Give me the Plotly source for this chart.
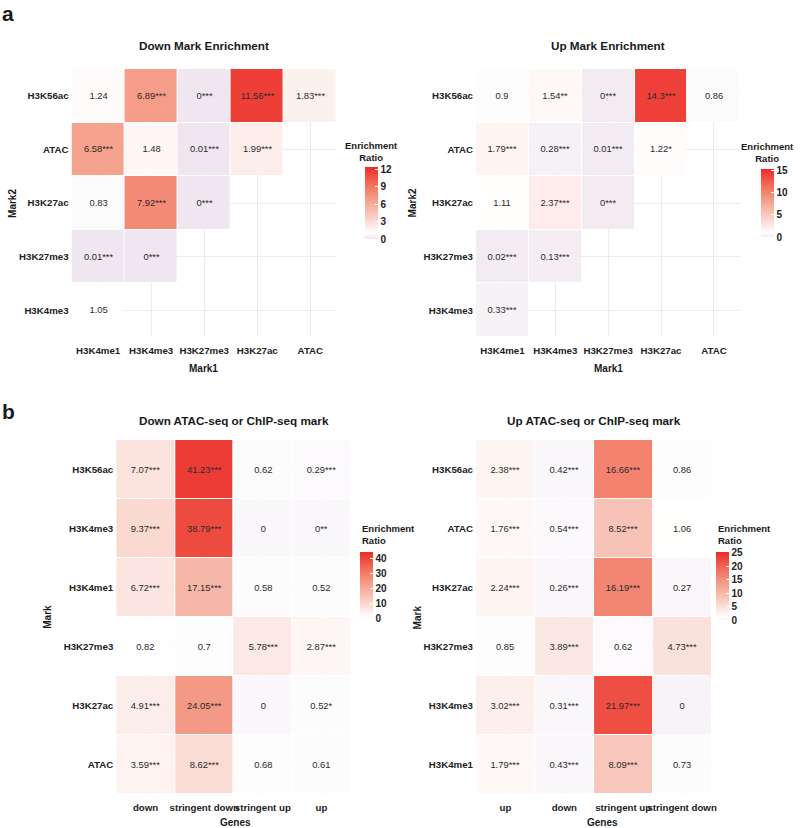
import plotly.graph_objects as go

FONT = "Liberation Sans, Arial, Helvetica, sans-serif"

# ---------------- Panel a data ----------------
a_mark1 = ["H3K4me1", "H3K4me3", "H3K27me3", "H3K27ac", "ATAC"]
a_mark2 = ["H3K56ac", "ATAC", "H3K27ac", "H3K27me3", "H3K4me3"]

a_down_vals = [
    [1.24, 6.89, 0, 11.56, 1.83],
    [6.58, 1.48, 0.01, 1.99, None],
    [0.83, 7.92, 0, None, None],
    [0.01, 0, None, None, None],
    [1.05, None, None, None, None],
]
a_down_sig = [
    ["", "***", "***", "***", "***"],
    ["***", "", "***", "***", ""],
    ["", "***", "***", "", ""],
    ["***", "***", "", "", ""],
    ["", "", "", "", ""],
]

a_up_vals = [
    [0.9, 1.54, 0, 14.3, 0.86],
    [1.79, 0.28, 0.01, 1.22, None],
    [1.11, 2.37, 0, None, None],
    [0.02, 0.13, None, None, None],
    [0.33, None, None, None, None],
]
a_up_sig = [
    ["", "**", "***", "***", ""],
    ["***", "***", "***", "*", ""],
    ["", "***", "***", "", ""],
    ["***", "***", "", "", ""],
    ["***", "", "", "", ""],
]

# ---------------- Panel b data ----------------
b_down_genes = ["down", "stringent down", "stringent up", "up"]
b_down_marks = ["H3K56ac", "H3K4me3", "H3K4me1", "H3K27me3", "H3K27ac", "ATAC"]
b_down_vals = [
    [7.07, 41.23, 0.62, 0.29],
    [9.37, 38.79, 0, 0],
    [6.72, 17.15, 0.58, 0.52],
    [0.82, 0.7, 5.78, 2.87],
    [4.91, 24.05, 0, 0.52],
    [3.59, 8.62, 0.68, 0.61],
]
b_down_sig = [
    ["***", "***", "", "***"],
    ["***", "***", "", "**"],
    ["***", "***", "", ""],
    ["", "", "***", "***"],
    ["***", "***", "", "*"],
    ["***", "***", "", ""],
]

b_up_genes = ["up", "down", "stringent up", "stringent down"]
b_up_marks = ["H3K56ac", "ATAC", "H3K27ac", "H3K27me3", "H3K4me3", "H3K4me1"]
b_up_vals = [
    [2.38, 0.42, 16.66, 0.86],
    [1.76, 0.54, 8.52, 1.06],
    [2.24, 0.26, 16.19, 0.27],
    [0.85, 3.89, 0.62, 4.73],
    [3.02, 0.31, 21.97, 0],
    [1.79, 0.43, 8.09, 0.73],
]
b_up_sig = [
    ["***", "***", "***", ""],
    ["***", "***", "***", ""],
    ["***", "***", "***", ""],
    ["", "***", "", "***"],
    ["***", "***", "***", ""],
    ["***", "***", "***", ""],
]

W, H = 800, 828


def px(x):
    return x / W


def py(y):
    return 1 - y / H


def labels(vals, sig):
    out = []
    for rv, rs in zip(vals, sig):
        out.append(["" if v is None else f"{v:g}{s}" for v, s in zip(rv, rs)])
    return out


def scale(zmax):
    # diverging around 1: pale purple tint -> white -> red (Lab-like steps)
    f = 1.0 / (zmax - 1.0)
    low = f"rgb({255 - 180 * f:.0f},{255 - 280 * f:.0f},{255 - 180 * f:.0f})"
    m = 1.0 / zmax
    reds = [(0.25, "rgb(249,206,196)"), (0.5, "rgb(245,160,140)"),
            (0.75, "rgb(241,108,88)"), (1.0, "rgb(236,44,42)")]
    cs = [[0, low], [m, "rgb(255,255,255)"]]
    for t, c in reds:
        cs.append([m + t * (1 - m), c])
    return cs


def cbar(x, ytop, length, ticks):
    return dict(
        x=px(x), xanchor="left", xpad=0,
        y=py(ytop), yanchor="top", ypad=0,
        len=length, lenmode="pixels",
        thickness=13, thicknessmode="pixels",
        outlinewidth=0, tickvals=ticks,
        ticks="inside", ticklen=3, tickcolor="white",
        tickfont=dict(size=10, family=FONT, color="#222", weight="bold"),
        title=dict(text=""),
    )


panels = [
    # vals, sig, xcats, ycats, zmax, axis suffix, colorbar args
    (a_down_vals, a_down_sig, a_mark1, a_mark2, 12.4, "", (367, 167, 72, [0, 3, 6, 9, 12])),
    (a_up_vals, a_up_sig, a_mark1, a_mark2, 15.4, "2", (766, 169, 68, [0, 5, 10, 15])),
    (b_down_vals, b_down_sig, b_down_genes, b_down_marks, 44, "3", (362, 552, 66, [0, 10, 20, 30, 40])),
    (b_up_vals, b_up_sig, b_up_genes, b_up_marks, 25.3, "4", (720, 552, 68, [0, 5, 10, 15, 20, 25])),
]

fig = go.Figure()
for vals, sig, xc, yc, zmax, sfx, cb in panels:
    fig.add_trace(go.Heatmap(
        z=vals, x=xc, y=yc, text=labels(vals, sig), texttemplate="%{text}",
        textfont=dict(size=9.4, family=FONT, color="#2b2b2b"),
        colorscale=scale(zmax), zmin=0, zmax=zmax,
        xgap=1, ygap=1, hoverongaps=False,
        xaxis="x" + sfx, yaxis="y" + sfx,
        colorbar=cbar(*cb),
    ))

domains = {
    "": ((72, 339), (69, 337)),
    "2": ((479, 745), (69, 337)),
    "3": ((117, 353), (440, 794)),
    "4": ((479, 716), (440, 794)),
}

layout_axes = {}
for sfx, ((x0, x1), (y0, y1)) in domains.items():
    common = dict(showgrid=True, gridcolor="#ebebeb", gridwidth=1, zeroline=False,
                  showline=False, ticks="", type="category", tickangle=0,
                  tickfont=dict(size=9.7, family=FONT, color="#222", weight="bold"))
    layout_axes["xaxis" + sfx] = dict(common, domain=[px(x0), px(x1)],
                                      anchor="y" + sfx, ticklabelstandoff=6)
    layout_axes["yaxis" + sfx] = dict(common, domain=[py(y1), py(y0)],
                                      anchor="x" + sfx, autorange="reversed",
                                      ticklabelstandoff=2)

ann = []


def text(s, x, y, size, angle=0, xanchor="center", align="center", weight="bold", yanchor="middle"):
    ann.append(dict(text=s, x=px(x), y=py(y), xref="paper", yref="paper",
                    showarrow=False, xanchor=xanchor, yanchor=yanchor, align=align,
                    textangle=angle,
                    font=dict(size=size, family=FONT, color="#1a1a1a", weight=weight)))


text("a", 0, 0, 21, xanchor="left", yanchor="top")
text("b", 0, 398, 21, xanchor="left", yanchor="top")
text("Down Mark Enrichment", 205.5, 45, 11.7)
text("Up Mark Enrichment", 612, 45, 11.7)
text("Down ATAC-seq or ChIP-seq mark", 235, 420, 11.7)
text("Up ATAC-seq or ChIP-seq mark", 597.5, 420, 11.7)
text("Mark1", 205, 368, 10)
text("Mark1", 612, 368, 10)
text("Mark2", 13, 203, 10, angle=-90)
text("Mark2", 416, 203, 10, angle=-90)
text("Genes", 237, 822, 10)
text("Genes", 606, 822, 10)
text("Mark", 47, 617, 10, angle=-90)
text("Mark", 420, 617, 10, angle=-90)
text("Enrichment<br>Ratio", 374, 151, 9.5)
text("Enrichment<br>Ratio", 772, 152, 9.5)
text("Enrichment<br>Ratio", 362, 534, 9.5, xanchor="left", align="left")
text("Enrichment<br>Ratio", 720, 534, 9.5, xanchor="left", align="left")

fig.update_layout(
    width=W, height=H, margin=dict(l=0, r=0, t=0, b=0),
    paper_bgcolor="white", plot_bgcolor="white",
    font=dict(family=FONT, color="#222"),
    annotations=ann, **layout_axes,
)

fig.write_html("out.html", config={"displayModeBar": False},
               post_script="document.body.style.margin='0px';")
